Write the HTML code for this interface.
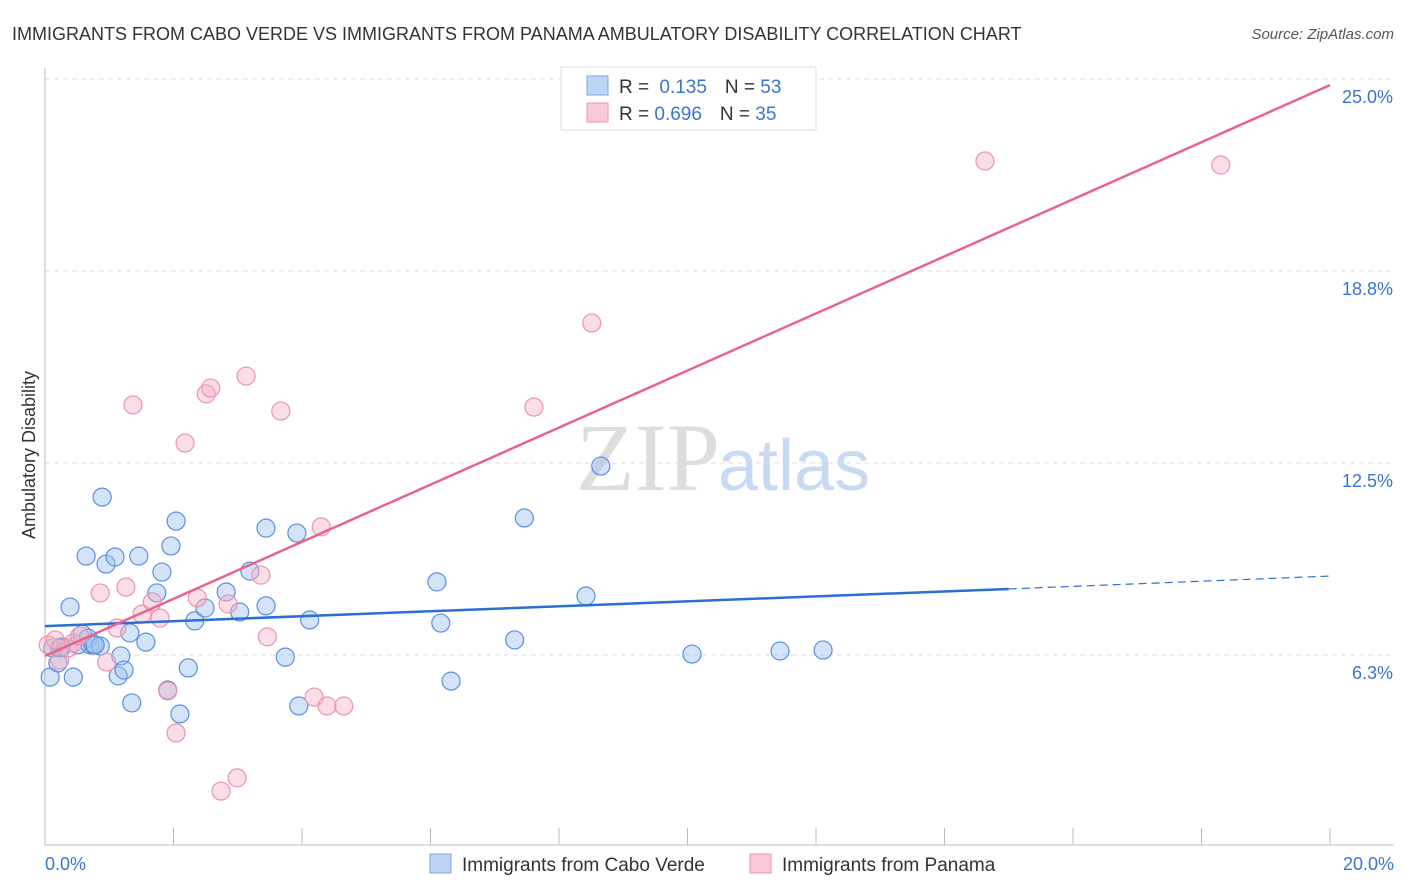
<!DOCTYPE html>
<html><head><meta charset="utf-8"><style>
body{margin:0;background:#fff;font-family:"Liberation Sans",sans-serif;}
svg{display:block}
</style></head><body>
<svg id="chart" width="1406" height="892">
<text x="12" y="40" font-size="18" fill="#333">IMMIGRANTS FROM CABO VERDE VS IMMIGRANTS FROM PANAMA AMBULATORY DISABILITY CORRELATION CHART</text>
<text x="1394" y="39" font-size="15" fill="#555" font-style="italic" text-anchor="end">Source: ZipAtlas.com</text>
<text x="720" y="490" font-size="96" fill="#ddd" font-family="Liberation Serif,serif" text-anchor="end">ZIP</text>
<text x="718" y="490" font-size="72" fill="#c8daf3">atlas</text>
<g id="grid"></g>
<line x1="45" y1="68" x2="45" y2="845" stroke="#bbb"/>
<line x1="45" y1="845" x2="1394" y2="845" stroke="#bbb"/>
<g id="xticks"></g>
<text x="30" y="460" font-size="18" fill="#333" text-anchor="middle" transform="rotate(-90 30 455)">Ambulatory Disability</text>
<text x="45" y="870" font-size="18" fill="#3a74d0">0.0%</text>
<text x="1394" y="870" font-size="18" fill="#3a74d0" text-anchor="end">20.0%</text>
<g id="points"></g>
<g id="trends"></g>
<g>
<rect x="561" y="67" width="255" height="63" fill="#fff" stroke="#ddd"/>
<rect x="587" y="76" width="21" height="19" fill="#bcd5f5" stroke="#7aa6e3"/>
<rect x="587" y="103" width="21" height="19" fill="#f9c9d7" stroke="#eb94ae"/>
<text x="619" y="93" font-size="19" fill="#333">R = <tspan fill="#3a74d0" dx="5">0.135</tspan><tspan dx="18" fill="#333">N = </tspan><tspan fill="#3a74d0">53</tspan></text>
<text x="619" y="120" font-size="19" fill="#333">R = <tspan fill="#3a74d0">0.696</tspan><tspan dx="18" fill="#333">N = </tspan><tspan fill="#3a74d0">35</tspan></text>
</g>
<g>
<rect x="430" y="854" width="21" height="19" fill="#bcd5f5" stroke="#7aa6e3"/>
<text x="462" y="871" font-size="19" fill="#333">Immigrants from Cabo Verde</text>
<rect x="750" y="854" width="21" height="19" fill="#f9c9d7" stroke="#eb94ae"/>
<text x="782" y="871" font-size="19" fill="#333">Immigrants from Panama</text>
</g>
</svg>
<script>
const yTicks=[6.25,12.5,18.75,25];
const yTickLabels=["6.3%","12.5%","18.8%","25.0%"];
const blueX=[0.08,0.12,0.20,0.26,0.39,0.44,0.51,0.58,0.67,0.70,0.64,0.75,0.86,0.89,0.95,1.09,1.14,1.18,1.23,1.32,1.35,1.46,1.57,1.74,1.82,1.91,1.96,2.04,2.10,2.23,2.33,2.49,2.82,3.03,3.19,3.44,3.44,3.74,3.92,3.95,4.12,6.10,6.16,6.32,7.31,7.46,8.42,8.65,10.07,11.44,12.11,0.23,0.78];
const blueY=[5.53,6.48,5.99,6.51,7.81,5.53,6.58,6.93,6.80,6.58,9.47,6.58,6.54,11.39,9.21,9.44,5.57,6.22,5.76,6.97,4.69,9.47,6.67,8.27,8.95,5.11,9.80,10.61,4.33,5.83,7.36,7.78,8.30,7.65,8.98,10.38,7.85,6.18,10.22,4.59,7.39,8.63,7.29,5.40,6.74,10.71,8.17,12.40,6.28,6.38,6.41,6.48,6.58];
const pinkX=[0.05,0.16,0.23,0.36,0.44,0.54,0.86,0.96,1.12,1.26,1.37,1.51,1.67,1.79,1.91,2.04,2.18,2.37,2.51,2.58,2.74,2.85,2.99,3.13,3.36,3.46,3.67,4.19,4.30,4.39,4.65,7.61,8.51,14.63,18.30];
const pinkY=[6.58,6.74,6.09,6.48,6.64,6.87,8.27,6.02,7.13,8.46,14.39,7.58,7.98,7.45,5.08,3.71,13.15,8.11,14.75,14.94,1.82,7.91,2.25,15.33,8.85,6.84,14.19,4.88,10.42,4.59,4.59,14.32,17.06,22.33,22.20];
const blueTrend=[7.19,8.40,8.82]; // at x=0, 15, 20
const blueTrendX=[0,15,20];
const pinkTrend=[6.22,24.80];
const pinkTrendX=[0,20];
const NS="http://www.w3.org/2000/svg";
const sx=v=>45+v*1285/20;
const sy=v=>847-v*768/25;
function mk(tag,attrs,parent){const e=document.createElementNS(NS,tag);for(const k in attrs)e.setAttribute(k,attrs[k]);parent.appendChild(e);return e;}
const grid=document.getElementById('grid');
yTicks.forEach((t,i)=>{
  const l=mk('line',{x1:45,x2:1394,y1:sy(t),y2:sy(t),stroke:'#ddd','stroke-dasharray':'5,4'},grid);
  
  
  const tx=mk('text',{x:1393,y:sy(t)+24,'font-size':18,fill:'#3a74d0','text-anchor':'end'},grid);
  tx.textContent=yTickLabels[i];
  
  
});
const xt=document.getElementById('xticks');
for(let i=1;i<=10;i++){
  const l=mk('line',{x1:sx(i*2),x2:sx(i*2),y1:828,y2:845,stroke:'#bbb'},xt);
  
  
}
const pts=document.getElementById('points');
blueX.forEach((x,i)=>{
  const c=mk('circle',{cx:sx(x),cy:sy(blueY[i]),r:9,fill:'rgba(160,195,240,0.45)',stroke:'#5b8ee0','stroke-width':1.2},pts);
  
  
});
pinkX.forEach((x,i)=>{
  const c=mk('circle',{cx:sx(x),cy:sy(pinkY[i]),r:9,fill:'rgba(245,180,200,0.45)',stroke:'#eb94ae','stroke-width':1.2},pts);
  
  
});
const tr=document.getElementById('trends');
const b1=mk('line',{x1:sx(blueTrendX[0]),y1:sy(blueTrend[0]),x2:sx(blueTrendX[1]),y2:sy(blueTrend[1]),stroke:'#2a6fd6','stroke-width':2.5},tr);


const b2=mk('line',{x1:sx(blueTrendX[1]),y1:sy(blueTrend[1]),x2:sx(blueTrendX[2]),y2:sy(blueTrend[2]),stroke:'#2a6fd6','stroke-width':1.2,'stroke-dasharray':'8,5'},tr);


const p1=mk('line',{x1:sx(pinkTrendX[0]),y1:sy(pinkTrend[0]),x2:sx(pinkTrendX[1]),y2:sy(pinkTrend[1]),stroke:'#e8638d','stroke-width':2.5},tr);


</script>
</body></html>
